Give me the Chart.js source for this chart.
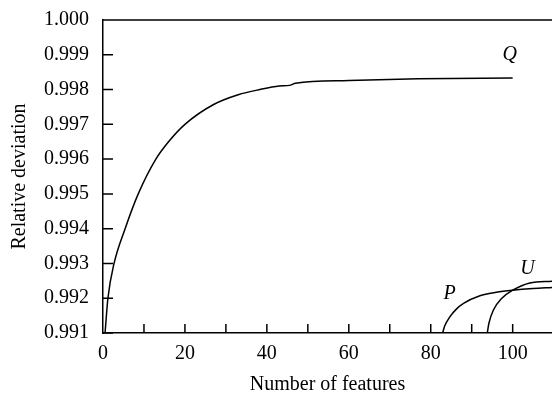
<!DOCTYPE html>
<html>
<head>
<meta charset="utf-8">
<script src="https://cdn.jsdelivr.net/npm/chart.js@4"></script>
<style>
  html, body { margin: 0; padding: 0; background: #fff; }
</style>
</head>
<body>
<canvas id="chart" width="552" height="393"></canvas>
<script>
// curve Q
var qX = [0.5, 1.2, 2.7, 5.4, 8.6, 12.9, 16, 20, 27, 33, 38.3, 43, 45.5, 47, 60, 77, 100];
var qY = [0.991, 0.992, 0.993, 0.994, 0.995, 0.996, 0.9965, 0.997, 0.99757, 0.99785, 0.998, 0.9981, 0.99812, 0.99818, 0.99826, 0.99831, 0.99833];
// curve P
var pX = [82.9, 83.4, 84.7, 86.2, 88, 92, 96, 100, 105, 109.6];
var pY = [0.991, 0.9912, 0.99147, 0.99168, 0.99185, 0.99207, 0.99217, 0.99223, 0.99228, 0.99231];
// curve U
var uX = [93.8, 94.2, 95.3, 97.3, 100, 104.2, 109.6];
var uY = [0.991, 0.99128, 0.99166, 0.99199, 0.99223, 0.99244, 0.99249];

var curveNames = ['Q', 'P', 'U'];
var nameX = [99.3, 84.6, 103.6];
var nameY = [0.9990, 0.99214, 0.99286];

var xMin = 0, xMax = 109.6;
var yMin = 0.991, yMax = 1.000;

function pts(xs, ys) {
  return xs.map(function (x, i) { return { x: x, y: ys[i] }; });
}

var serif = 'Liberation Serif, Times New Roman, serif';

// inward tick marks, top border and curve names
var decorations = {
  id: 'decorations',
  afterDraw: function (chart) {
    var ctx = chart.ctx;
    var area = chart.chartArea;
    var xs = chart.scales.x, ys = chart.scales.y;
    ctx.save();
    ctx.strokeStyle = '#000';
    ctx.lineWidth = 1.5;
    ctx.beginPath();
    ys.ticks.forEach(function (t) {
      var py = ys.getPixelForValue(t.value);
      ctx.moveTo(area.left, py);
      ctx.lineTo(area.left + 10, py);
    });
    xs.ticks.forEach(function (t) {
      if (Math.round(t.value) === 0) return;
      var px = xs.getPixelForValue(t.value);
      ctx.moveTo(px, area.bottom);
      ctx.lineTo(px, area.bottom - 9);
    });
    ctx.moveTo(area.left, area.top);
    ctx.lineTo(area.right, area.top);
    ctx.stroke();

    ctx.fillStyle = '#000';
    ctx.font = 'italic 20px ' + serif;
    ctx.textAlign = 'center';
    ctx.textBaseline = 'middle';
    curveNames.forEach(function (n, i) {
      ctx.fillText(n, xs.getPixelForValue(nameX[i]), ys.getPixelForValue(nameY[i]));
    });
    ctx.restore();
  }
};

var lineStyle = {
  borderColor: '#000',
  borderWidth: 1.5,
  pointRadius: 0,
  showLine: true,
  fill: false,
  cubicInterpolationMode: 'monotone'
};

var ctx = document.getElementById('chart').getContext('2d');
var myChart = new Chart(ctx, {
  type: 'scatter',
  data: {
    datasets: [
      Object.assign({ label: 'Q', data: pts(qX, qY) }, lineStyle),
      Object.assign({ label: 'P', data: pts(pX, pY) }, lineStyle),
      Object.assign({ label: 'U', data: pts(uX, uY) }, lineStyle)
    ]
  },
  options: {
    responsive: false,
    animation: false,
    devicePixelRatio: 1,
    layout: { padding: { top: 20, right: 0, left: 0, bottom: 0 } },
    plugins: {
      legend: { display: false },
      tooltip: { enabled: false }
    },
    scales: {
      x: {
        type: 'linear',
        min: xMin,
        max: xMax,
        grid: { display: false },
        border: { display: true, color: '#000', width: 1.5 },
        ticks: {
          stepSize: 10,
          includeBounds: false,
          autoSkip: false,
          maxRotation: 0,
          padding: 1,
          color: '#000',
          font: { family: serif, size: 20 },
          callback: function (v) {
            var r = Math.round(v);
            return r % 20 === 0 ? String(r) : '';
          }
        },
        afterBuildTicks: function (scale) {
          scale.ticks = scale.ticks.filter(function (t) { return t.value <= 100.5; });
        },
        afterFit: function (scale) { scale.height = 60; },
        title: {
          display: true,
          text: 'Number of features',
          color: '#000',
          font: { family: serif, size: 20, lineHeight: 0.85 },
          padding: { top: 0, bottom: 0 }
        }
      },
      y: {
        type: 'linear',
        min: yMin,
        max: yMax,
        grid: { display: false },
        border: { display: true, color: '#000', width: 1.5 },
        ticks: {
          stepSize: 0.001,
          padding: 6,
          color: '#000',
          font: { family: serif, size: 20 },
          callback: function (v) { return v.toFixed(3); }
        },
        afterFit: function (scale) { scale.width = 103; },
        title: {
          display: true,
          text: 'Relative deviation',
          color: '#000',
          font: { family: serif, size: 20, lineHeight: 1 },
          padding: { top: 10, bottom: 0 }
        }
      }
    }
  },
  plugins: [decorations]
});
</script>
</body>
</html>
